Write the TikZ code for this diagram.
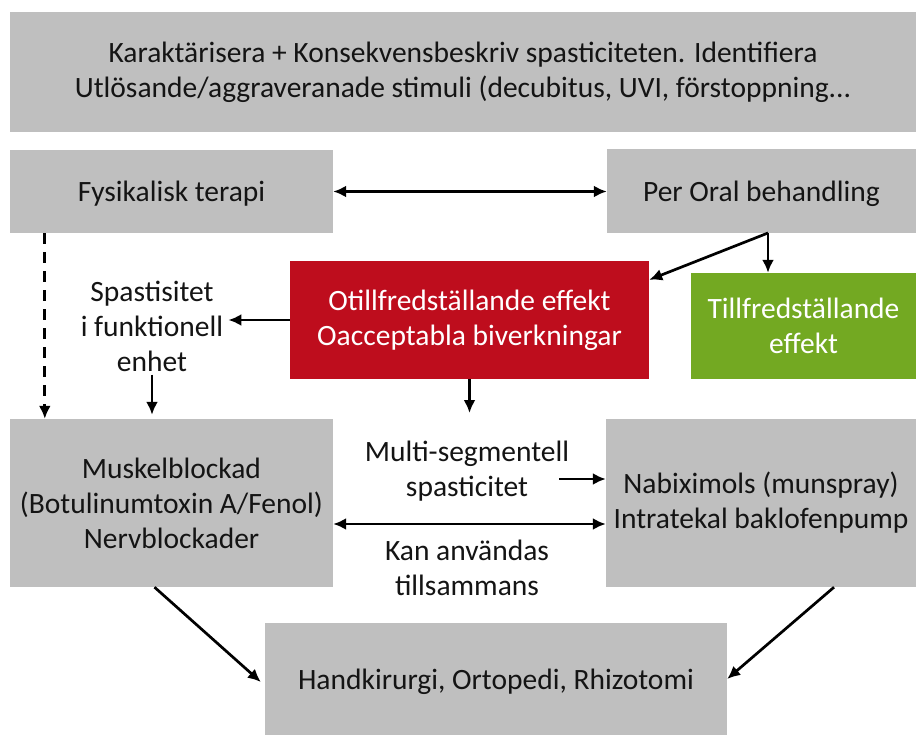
\documentclass[tikz,border=0pt]{standalone}
\usepackage{fontspec}
\setmainfont{Carlito}
\usetikzlibrary{arrows.meta}
\definecolor{boxgray}{HTML}{BFBFBF}
\definecolor{boxred}{HTML}{BE0D1D}
\definecolor{boxgreen}{HTML}{73A922}
\definecolor{txt}{HTML}{141414}
\tikzset{%
  arr/.style = {-{Latex[length=13pt,width=12pt]},line width=2.7pt},
  dblarr/.style = {{Latex[length=13pt,width=12pt]}-{Latex[length=13pt,width=12pt]},line width=2.7pt},
  dasharr/.style = {arr,dash pattern=on 11pt off 8pt},
  b/.style = {rectangle,fill=boxgray,text=txt,align=center,inner sep=0pt,
        font=\fontsize{29.5}{35}\selectfont},
  sb/.style = {b,text depth=0pt},
  rb/.style = {b,fill=boxred,text=white},
  gb/.style = {b,fill=boxgreen,text=white},
  lbl/.style = {align=center,text=txt,inner sep=3pt,
        font=\fontsize{29.5}{35}\selectfont}
}
\begin{document}
\begin{tikzpicture}[x=1pt,y=-1pt]
    \useasboundingbox[fill=white] (0,0) rectangle (916,735);
    \node[b,text depth=4pt,minimum width=906pt,minimum height=120pt] (top) at (463,72)
        {Karaktärisera + Konsekvensbeskriv spasticiteten. Identifiera\\
         Utlösande/aggraveranade stimuli (decubitus, UVI, förstoppning...};
    \node[sb,minimum width=323pt,minimum height=83pt] (fys) at (171.5,191.5) {Fysikalisk terapi};
    \node[sb,minimum width=309pt,minimum height=84pt] (oral) at (761.5,191.5) {Per Oral behandling};
    \node[rb,minimum width=359pt,minimum height=118pt] (red) at (469.5,320)
        {Otillfredställande effekt\\Oacceptabla biverkningar};
    \node[gb,minimum width=225pt,minimum height=106pt] (green) at (803.5,326)
        {Tillfredställande\\effekt};
    \node[b,minimum width=323pt,minimum height=168pt] (musk) at (171.5,503)
        {Muskelblockad\\(Botulinumtoxin A/Fenol)\\Nervblockader};
    \node[b,minimum width=310pt,minimum height=168pt] (nabi) at (761,503)
        {Nabiximols (munspray)\\Intratekal baklofenpump};
    \node[sb,minimum width=462pt,minimum height=112pt] (hand) at (496,679)
        {Handkirurgi, Ortopedi, Rhizotomi};
    \node[lbl] (spast) at (152,326) {Spastisitet\\i funktionell\\enhet};
    \node[lbl] (multi) at (467,471) {Multi-segmentell\\spasticitet};
    \node[lbl] (kan) at (467,568) {Kan användas\\tillsammans};
    \coordinate (redend) at (469.5,413);
    \coordinate (multiout) at (559,479);
    \coordinate (oralout) at (768,233);

    \draw[dblarr] (fys.east) -- (oral.west);
    \draw[dasharr] ([xshift=35pt]fys.south west) -- ([xshift=35pt]musk.north west);
    \draw[arr] (red.west) -- ([xshift=2pt]spast.east |- red.west);
    \draw[arr] (spast.south) -- ([yshift=4pt]spast.south |- musk.north);
    \draw[arr] (oralout) -- ([yshift=-19pt]red.north east);
    \draw[arr] (oralout) -- (oralout |- green.north);
    \draw[arr] (red.south) -- (redend);
    \draw[arr] (multiout) -- (multiout -| nabi.west);
    \draw[dblarr] ([yshift=-21pt]musk.east) -- ([yshift=-21pt]musk.east -| nabi.west);
    \draw[arr] ([xshift=-17pt]musk.south) -- ([xshift=-4pt,yshift=-3pt]hand.west);
    \draw[arr] ([xshift=73pt]nabi.south) -- (hand.east);
\end{tikzpicture}
\end{document}
